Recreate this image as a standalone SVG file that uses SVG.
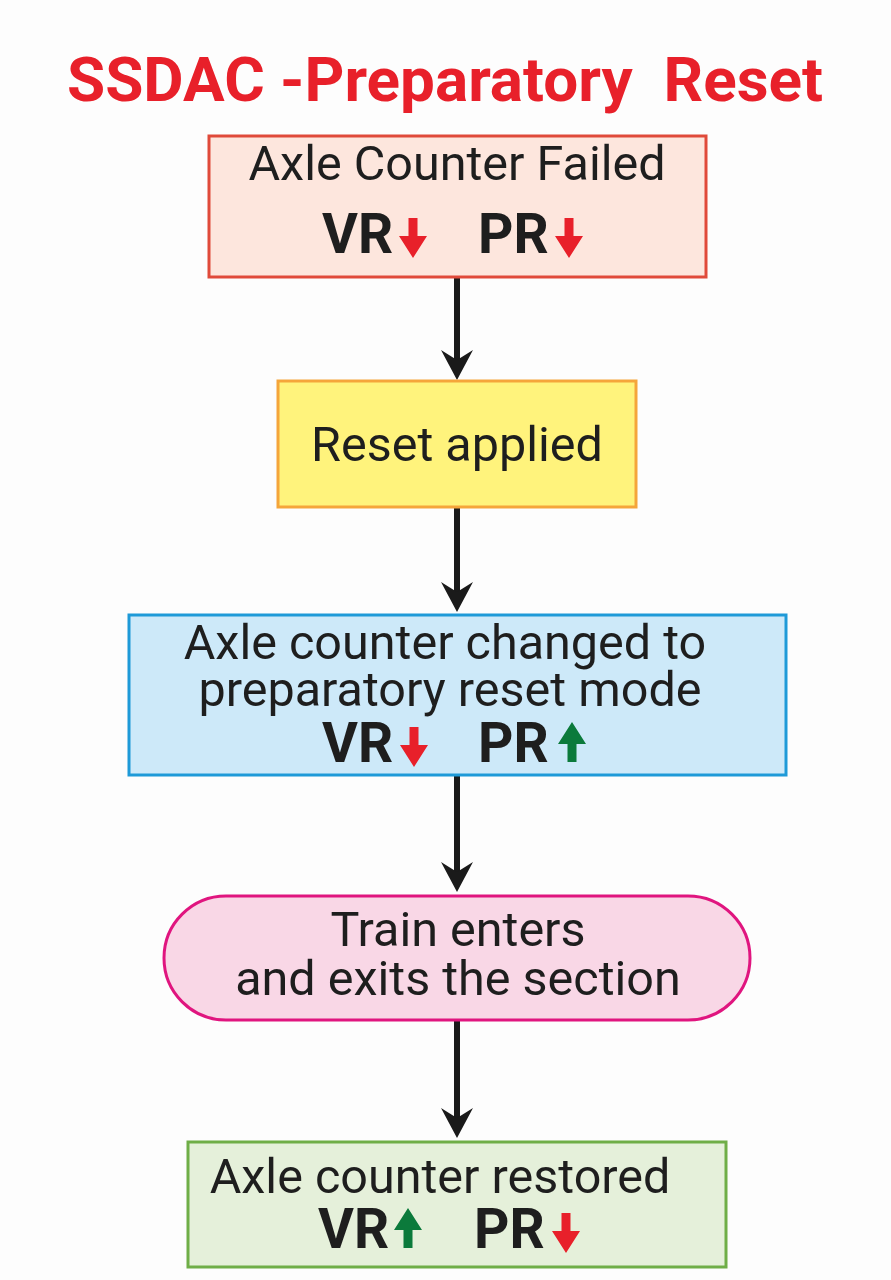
<svg xmlns="http://www.w3.org/2000/svg" width="891" height="1280" viewBox="0 0 891 1280">
<style>
.t{font-family:Roboto,"Liberation Sans",sans-serif;font-size:48.5px;fill:#1e1e1e;text-anchor:middle}
.b{font-family:Roboto,"Liberation Sans",sans-serif;font-size:55px;font-weight:bold;fill:#1e1e1e}
.title{font-family:Roboto,"Liberation Sans",sans-serif;font-size:62px;font-weight:bold;fill:#e8202a;white-space:pre}
.c{stroke:#1a1a1a;stroke-width:6;fill:none}
.red{fill:#e8202a}
.grn{fill:#0b7a3b}
</style>
<defs>
<marker id="ah" markerUnits="userSpaceOnUse" viewBox="0 0 32 32" refX="10" refY="16" markerWidth="32" markerHeight="32" orient="auto">
<path d="M0,0 L30,16 L0,32 L10,16 Z" fill="#1a1a1a"/>
</marker>
<path id="dn" d="M-4.5,0 H4.5 V18 H14 L0,40 L-14,18 H-4.5 Z"/>
<path id="up" d="M-4.5,40 H4.5 V22 H14 L0,0 L-14,22 H-4.5 Z"/>
</defs>
<rect width="891" height="1280" fill="#fdfdfd"/>
<text class="title" x="67" y="101" xml:space="preserve">SSDAC -Preparatory  Reset</text>

<g id="connectors">
<line class="c" x1="457" y1="277" x2="457" y2="360" marker-end="url(#ah)"/>
<line class="c" x1="457" y1="507" x2="457" y2="592" marker-end="url(#ah)"/>
<line class="c" x1="457" y1="775" x2="457" y2="872" marker-end="url(#ah)"/>
<line class="c" x1="457" y1="1020" x2="457" y2="1118" marker-end="url(#ah)"/>
</g>

<g id="n1">
<rect x="209" y="136" width="497" height="141" fill="#fde6dd" stroke="#e04a3a" stroke-width="3"/>
<text class="t" x="457" y="180" font-size="49.5">Axle Counter Failed</text>
<text class="b" x="322" y="253">VR</text>
<use href="#dn" class="red" x="413" y="218"/>
<text class="b" x="478" y="253">PR</text>
<use href="#dn" class="red" x="569" y="218"/>
</g>

<g id="n2">
<rect x="278" y="381" width="358" height="126" fill="#fff37c" stroke="#f5a53a" stroke-width="3"/>
<text class="t" x="457" y="461">Reset applied</text>
</g>

<g id="n3">
<rect x="129" y="615" width="657" height="160" fill="#cde9f9" stroke="#1e9ad8" stroke-width="3"/>
<text class="t" x="445" y="659">Axle counter changed to</text>
<text class="t" x="450" y="706">preparatory reset mode</text>
<text class="b" x="322" y="762">VR</text>
<use href="#dn" class="red" x="414" y="727"/>
<text class="b" x="478" y="762">PR</text>
<use href="#up" class="grn" x="572" y="722"/>
</g>

<g id="n4">
<rect x="164" y="896" width="586" height="124" rx="62" fill="#f9d7e6" stroke="#e0157f" stroke-width="3"/>
<text class="t" x="458" y="946">Train enters</text>
<text class="t" x="458" y="995">and exits the section</text>
</g>

<g id="n5">
<rect x="188" y="1142" width="538" height="125" fill="#e5f0da" stroke="#6fae47" stroke-width="3"/>
<text class="t" x="440" y="1193">Axle counter restored</text>
<text class="b" x="318" y="1248">VR</text>
<use href="#up" class="grn" x="408" y="1208"/>
<text class="b" x="474" y="1248">PR</text>
<use href="#dn" class="red" x="566" y="1213"/>
</g>
</svg>
